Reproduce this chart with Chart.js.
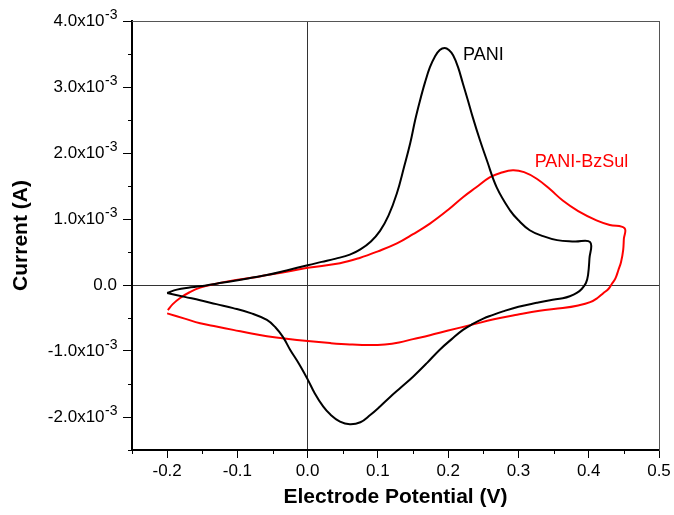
<!DOCTYPE html>
<html>
<head>
<meta charset="utf-8">
<script src="https://cdn.jsdelivr.net/npm/chart.js@4.4.1/dist/chart.umd.min.js"></script>
<style>
  html, body { margin: 0; padding: 0; background: #fff; }
  #wrap { width: 674px; height: 515px; position: relative; }
</style>
</head>
<body>
<div id="wrap"><canvas id="cv"></canvas></div>
<script>
// potential (V) and current (x10^-3 A), one full cycle each
const paniV = [-0.200, -0.186, -0.170, -0.153, -0.130, -0.106, -0.080, -0.058, -0.030, 0.000,
  0.020, 0.040, 0.060, 0.075, 0.090, 0.103, 0.115, 0.127, 0.137, 0.146,
  0.153, 0.160, 0.167, 0.174, 0.181, 0.188, 0.195, 0.201, 0.207, 0.214,
  0.221, 0.228, 0.235, 0.245, 0.255, 0.269, 0.288, 0.300, 0.316, 0.335,
  0.355, 0.380, 0.402, 0.401, 0.399, 0.396, 0.390, 0.383, 0.373, 0.363,
  0.345, 0.326, 0.300, 0.278, 0.262, 0.250, 0.235, 0.221, 0.205, 0.188,
  0.170, 0.150, 0.133, 0.117, 0.103, 0.089, 0.075, 0.060, 0.046, 0.032,
  0.022, 0.010, 0.000, -0.012, -0.025, -0.035, -0.046, -0.058, -0.080, -0.106,
  -0.130, -0.153, -0.175, -0.200];
const paniI = [-0.12, -0.07, -0.04, -0.02, 0.02, 0.06, 0.11, 0.15, 0.22, 0.30,
  0.35, 0.40, 0.46, 0.54, 0.66, 0.82, 1.05, 1.39, 1.78, 2.15,
  2.50, 2.80, 3.07, 3.30, 3.46, 3.56, 3.59, 3.56, 3.48, 3.30,
  3.05, 2.80, 2.54, 2.20, 1.89, 1.48, 1.13, 0.98, 0.83, 0.74,
  0.68, 0.66, 0.65, 0.40, 0.15, 0.03, -0.06, -0.12, -0.17, -0.20,
  -0.23, -0.27, -0.33, -0.40, -0.46, -0.51, -0.59, -0.68, -0.82, -0.98,
  -1.18, -1.39, -1.55, -1.70, -1.84, -1.97, -2.08, -2.11, -2.07, -1.96,
  -1.84, -1.64, -1.43, -1.20, -0.98, -0.79, -0.64, -0.53, -0.43, -0.35,
  -0.29, -0.23, -0.18, -0.12];

const bzsulV = [-0.199, -0.192, -0.182, -0.168, -0.153, -0.130, -0.106, -0.080, -0.058, -0.030,
  0.000, 0.046, 0.074, 0.100, 0.127, 0.150, 0.174, 0.200, 0.221, 0.240,
  0.259, 0.275, 0.292, 0.308, 0.326, 0.345, 0.363, 0.385, 0.411, 0.430,
  0.451, 0.450, 0.449, 0.446, 0.442, 0.438, 0.433, 0.428, 0.421, 0.412,
  0.402, 0.385, 0.363, 0.330, 0.298, 0.265, 0.231, 0.200, 0.174, 0.150,
  0.130, 0.110, 0.089, 0.060, 0.032, 0.000, -0.030, -0.058, -0.080, -0.106,
  -0.130, -0.153, -0.175, -0.200];
const bzsulI = [-0.38, -0.29, -0.20, -0.11, -0.04, 0.02, 0.07, 0.11, 0.15, 0.20,
  0.26, 0.33, 0.41, 0.51, 0.63, 0.77, 0.93, 1.14, 1.33, 1.48,
  1.63, 1.70, 1.74, 1.71, 1.61, 1.45, 1.28, 1.12, 0.98, 0.91,
  0.86, 0.70, 0.53, 0.35, 0.22, 0.10, 0.02, -0.06, -0.12, -0.20,
  -0.26, -0.31, -0.35, -0.39, -0.45, -0.52, -0.61, -0.69, -0.76, -0.82,
  -0.87, -0.90, -0.91, -0.90, -0.88, -0.85, -0.815, -0.775, -0.735, -0.68,
  -0.63, -0.58, -0.51, -0.43];

const yTickValues = [4, 3, 2, 1, 0, -1, -2];
const yTickLabels = ['4.0x10', '3.0x10', '2.0x10', '1.0x10', '0.0', '-1.0x10', '-2.0x10'];
const yTickExp = ['-3', '-3', '-3', '-3', '', '-3', '-3'];

const seriesNames = ['PANI', 'PANI-BzSul'];
const seriesColors = ['#000000', '#ff0000'];
const namePos = [[0.221, 3.48], [0.323, 1.86]]; // where the curve names sit, in data units

const FONT = 'Arial, "Liberation Sans", sans-serif';

const toPoints = (xs, ys) => xs.map((x, i) => ({ x: x, y: ys[i] }));

const isMajor = (v, step) => Math.abs(v / step - Math.round(v / step)) < 1e-6;

// minor ticks, tick labels of y (with superscript) and curve names
const extras = {
  id: 'extras',
  afterDraw(chart) {
    const ctx = chart.ctx;
    const xs = chart.scales.x, ys = chart.scales.y;
    const area = chart.chartArea;
    ctx.save();
    ctx.strokeStyle = '#000';
    ctx.lineWidth = 1;
    xs.ticks.forEach(t => {
      if (isMajor(t.value, 0.1)) return;
      const px = Math.round(xs.getPixelForValue(t.value)) + 0.5;
      ctx.beginPath();
      ctx.moveTo(px, area.bottom);
      ctx.lineTo(px, area.bottom + 4);
      ctx.stroke();
    });
    ys.ticks.forEach(t => {
      if (isMajor(t.value, 1)) return;
      const py = Math.round(ys.getPixelForValue(t.value)) + 0.5;
      ctx.beginPath();
      ctx.moveTo(area.left, py);
      ctx.lineTo(area.left - 4, py);
      ctx.stroke();
    });

    ctx.fillStyle = '#000';
    ctx.textBaseline = 'middle';
    ctx.textAlign = 'left';
    const right = 117;
    yTickValues.forEach((v, i) => {
      const py = ys.getPixelForValue(v);
      ctx.font = '17px ' + FONT;
      const wb = ctx.measureText(yTickLabels[i]).width;
      ctx.font = '14px ' + FONT;
      const we = yTickExp[i] ? ctx.measureText(yTickExp[i]).width : 0;
      const x0 = right - wb - we;
      ctx.font = '17px ' + FONT;
      ctx.fillText(yTickLabels[i], x0, py);
      if (yTickExp[i]) {
        ctx.font = '14px ' + FONT;
        ctx.fillText(yTickExp[i], x0 + wb + 0.5, py - 6);
      }
    });

    ctx.font = '18px ' + FONT;
    seriesNames.forEach((n, i) => {
      ctx.fillStyle = seriesColors[i];
      ctx.fillText(n, xs.getPixelForValue(namePos[i][0]), ys.getPixelForValue(namePos[i][1]));
    });
    ctx.restore();
  }
};

new Chart(document.getElementById('cv'), {
  type: 'scatter',
  data: {
    datasets: [
      { label: seriesNames[0], data: toPoints(paniV, paniI), borderColor: seriesColors[0] },
      { label: seriesNames[1], data: toPoints(bzsulV, bzsulI), borderColor: seriesColors[1] }
    ].map(d => Object.assign(d, { showLine: true, pointRadius: 0, borderWidth: 2, tension: 0.4, fill: false }))
  },
  options: {
    responsive: true,
    maintainAspectRatio: false,
    animation: false,
    layout: { padding: { top: 21, right: 15, left: 0, bottom: 0 } },
    plugins: { legend: { display: false }, tooltip: { enabled: false } },
    scales: {
      x: {
        type: 'linear',
        min: -0.25, max: 0.5,
        afterFit: s => { s.height = 65; },
        ticks: {
          stepSize: 0.05, autoSkip: false, maxRotation: 0, padding: 3,
          color: '#000', font: { family: FONT, size: 17 },
          callback: v => isMajor(v, 0.1) ? v.toFixed(1) : ''
        },
        grid: {
          color: c => (c.tick && c.tick.value === 0) ? '#333' : 'rgba(0,0,0,0)',
          tickColor: c => (c.tick && isMajor(c.tick.value, 0.1)) ? '#000' : 'rgba(0,0,0,0)',
          tickLength: 8, lineWidth: 1
        },
        border: { color: '#000', width: 2 },
        title: {
          display: true, text: 'Electrode Potential (V)', color: '#000',
          font: { family: FONT, size: 21, weight: 'bold' },
          padding: { top: 0, bottom: 5 }
        }
      },
      y: {
        type: 'linear',
        min: -2.5, max: 4,
        afterFit: s => { s.width = 132; },
        ticks: { stepSize: 0.5, display: false },
        grid: {
          color: c => (c.tick && c.tick.value === 0) ? '#333' : 'rgba(0,0,0,0)',
          tickColor: c => (c.tick && isMajor(c.tick.value, 1)) ? '#000' : 'rgba(0,0,0,0)',
          tickLength: 9, lineWidth: 1
        },
        border: { color: '#000', width: 2 },
        title: {
          display: true, text: 'Current (A)', color: '#000',
          font: { family: FONT, size: 21, weight: 'bold' },
          padding: { top: 9, bottom: 0 }
        }
      },
      x2: {
        type: 'linear', position: 'top', min: -0.25, max: 0.5,
        afterFit: s => { s.height = 0; },
        ticks: { display: false }, grid: { display: false },
        border: { color: '#555', width: 1 }
      },
      y2: {
        type: 'linear', position: 'right', min: -2.5, max: 4,
        afterFit: s => { s.width = 0; },
        ticks: { display: false }, grid: { display: false },
        border: { color: '#555', width: 1 }
      }
    }
  },
  plugins: [extras]
});
</script>
</body>
</html>
